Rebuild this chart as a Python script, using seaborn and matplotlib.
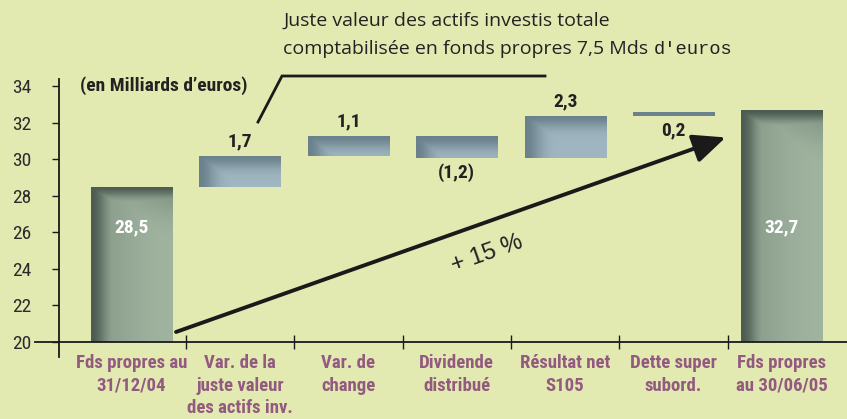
import numpy as np
import matplotlib
matplotlib.use("Agg")
import matplotlib.pyplot as plt
import seaborn as sns
from matplotlib import font_manager as fm
from matplotlib.lines import Line2D

# ---------------- data ----------------
categories = ["Fds propres au\n31/12/04", "Var. de la\njuste valeur\ndes actifs inv.",
              "Var. de\nchange", "Dividende\ndistribué", "Résultat net\nS105",
              "Dette super\nsubord.", "Fds propres\nau 30/06/05"]
kinds = ["total", "delta", "delta", "delta", "delta", "delta", "total"]
values = [28.5, 1.7, 1.1, -1.2, 2.3, 0.2, 32.7]
label_side = ["in", "above", "above", "below", "above", "below", "in"]
yticks = [20, 22, 24, 26, 28, 30, 32, 34]
ybase = 20


def has_font(name):
    try:
        fm.findfont(fm.FontProperties(family=name), fallback_to_default=False)
        return True
    except ValueError:
        return False


# condensed face if there is one, else Liberation Sans a bit smaller
narrow, scale = "Liberation Sans", 0.85
for cand in ["Roboto Condensed", "Archivo Narrow", "Liberation Sans Narrow"]:
    if has_font(cand):
        narrow, scale = cand, 1.0
        break

# waterfall bottoms / heights
bottoms, heights = [], []
run = 0
for k, v in zip(kinds, values):
    if k == "total":
        bottoms.append(ybase)
        heights.append(v - ybase)
        run = v
    else:
        bottoms.append(run)
        heights.append(v)
        run += v

bg = "#E3EAB1"
W, H = 847, 419
fig = plt.figure(figsize=(W / 100, H / 100), dpi=100, facecolor=bg)
ax = fig.add_axes([59 / W, 1 - 342 / H, 788 / W, (342 - 79) / H])
ax.set_facecolor(bg)

sns.barplot(x=categories, y=heights, bottom=bottoms, width=0.75, color="#A0B29E",
            linewidth=0, ax=ax)
ax.set_xlim(-0.67, 6.6)
ax.set_ylim(20, 34.4)

# gradient shading on each bar
styles = {"total": ((160, 180, 160), (72, 88, 78), 16, 11),
          "delta": ((160, 182, 192), (104, 126, 136), 16, 12)}
for p, k in zip(ax.patches, kinds):
    light, dark, su, sv = styles[k]
    p.set_facecolor(np.array(light) / 255)
    bb = p.get_bbox()
    x0, x1 = bb.x0, bb.x1
    y0, y1 = min(bb.y0, bb.y1), max(bb.y0, bb.y1)
    (px0, py0), (px1, py1) = ax.transData.transform([(x0, y0), (x1, y1)])
    nx, ny = max(int(px1 - px0), 2), max(int(py1 - py0), 2)
    u = np.arange(nx)[None, :].astype(float)
    v = np.arange(ny)[:, None].astype(float)
    d = np.maximum(np.exp(-(u / su) ** 2), np.exp(-(v / sv) ** 2))
    if k == "total":
        d = np.maximum(d, 0.35 * np.exp(-(v / 30) ** 2) * (u / nx))
        d = np.maximum(d, 0.25 * np.exp(-((u - 0.35 * su) / (2.5 * su)) ** 2))
    d = np.clip(d * 0.95, 0, 1)[..., None]
    img = (np.array(light)[None, None, :] * (1 - d) + np.array(dark)[None, None, :] * d) / 255
    im = ax.imshow(img, extent=[x0, x1, y0, y1], origin="upper", aspect="auto",
                   interpolation="bilinear", zorder=p.get_zorder() + 0.1)
    im.set_clip_path(p)
ax.set_xlim(-0.67, 6.6)
ax.set_ylim(20, 34.4)


def fmt(v):
    s = f"{abs(v):.1f}".replace(".", ",")
    return f"({s})" if v < 0 else s


for i, (b, h, v, side) in enumerate(zip(bottoms, heights, values, label_side)):
    top, bot = max(b, b + h), min(b, b + h)
    if side == "in":
        ax.text(i, 26.3, fmt(v), ha="center", va="center", color="white",
                fontsize=14 * scale, fontweight="bold", family=narrow, zorder=5)
    elif side == "above":
        ax.annotate(fmt(v), (i, top), xytext=(0, 4), textcoords="offset points",
                    ha="center", va="bottom", fontsize=14 * scale, fontweight="bold",
                    family=narrow, color="#222222")
    else:
        ax.annotate(fmt(v), (i, bot), xytext=(0, -4), textcoords="offset points",
                    ha="center", va="top", fontsize=14 * scale, fontweight="bold",
                    family=narrow, color="#222222")

# axes styling
for s in ["top", "right"]:
    ax.spines[s].set_visible(False)
for s in ["left", "bottom"]:
    ax.spines[s].set_color("#1a1a1a")
    ax.spines[s].set_linewidth(1.3)
ax.set_yticks(yticks)
ax.set_yticklabels([str(t) for t in yticks], family=narrow, fontsize=14 * scale)
ax.tick_params(axis="y", direction="out", length=5, width=1, pad=15, colors="#1a1a1a",
               labelcolor="#2b2b2b")
ax.set_xticks(range(len(categories)))
ax.set_xticklabels(categories, family=narrow, fontsize=13.5 * scale, fontweight="bold",
                   color="#935A80", linespacing=1.3)
ax.tick_params(axis="x", length=0, pad=9)
ax.set_xticks(np.arange(len(categories) - 1) + 0.5, minor=True)
ax.tick_params(axis="x", which="minor", direction="inout", length=10, width=1, color="#1a1a1a")
ax.set_xlabel("")
ax.set_ylabel("")

# extra axis pieces
fig.add_artist(Line2D([35 / W, 59 / W], [1 - 342 / H] * 2, color="#1a1a1a", lw=1.3))
fig.add_artist(Line2D([59 / W, 59 / W], [1 - 342 / H, 1 - 357 / H], color="#1a1a1a", lw=1.3))

# unit note
fig.text(80 / W, 1 - 86 / H, "(en Milliards d’euros)", family=narrow, fontsize=14 * scale,
         fontweight="bold", color="#222222", va="center", ha="left")

# growth arrow
ax.annotate("", xy=(5.48, 31.2), xytext=(0.41, 20.55),
            arrowprops=dict(arrowstyle="-|>,head_length=0.9,head_width=0.4", lw=2.8,
                            color="#1a1a1a", shrinkA=0, shrinkB=0, mutation_scale=22),
            annotation_clip=False, zorder=6)
ax.text(3.28, 24.8, "+ 15 %", rotation=19.5, ha="center", va="center", fontsize=17,
        family="Liberation Sans", color="#222222", rotation_mode="anchor")

# leader line and note
fig.add_artist(Line2D(np.array([258, 282, 545]) / W, 1 - np.array([122, 76, 76]) / H,
                      color="#1a1a1a", lw=2.0, solid_joinstyle="miter"))
fig.text(283 / W, 1 - 26 / H, "Juste valeur des actifs investis totale", family="Open Sans",
         fontsize=14, color="#222222", va="baseline", ha="left")
t2 = fig.text(283 / W, 1 - 54 / H, "comptabilisée en fonds propres 7,5 Mds", family="Open Sans",
              fontsize=14, color="#222222", va="baseline", ha="left")
fig.canvas.draw()
bb = t2.get_window_extent()
fig.text((bb.x1 + 6) / W, 1 - 54 / H, "d'euros", family="Liberation Mono", fontsize=13.5,
         color="#222222", va="baseline", ha="left")

fig.savefig("out.png", dpi=100, facecolor=bg)
